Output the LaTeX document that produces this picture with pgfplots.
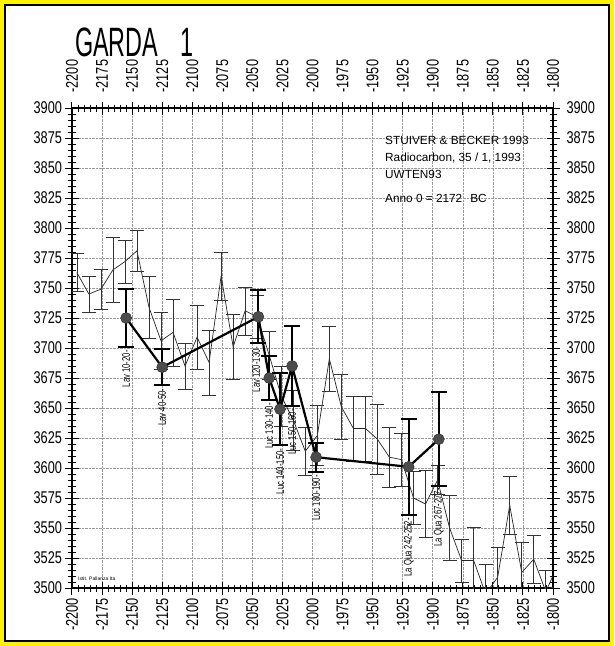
\documentclass[border=0pt]{standalone}
\usepackage{pgfplots}
\pgfplotsset{compat=1.18}
\usepackage{fontspec}
\setmainfont{Liberation Sans}
\newfontfamily\tickfont{Liberation Sans}[FakeStretch=0.75]
\newfontfamily\titlefont{Liberation Sans}[FakeStretch=0.57]
\newfontfamily\lblfont{Liberation Sans}[FakeStretch=0.7]
\newfontfamily\annofont{Liberation Sans}
\newcommand\tickfs{\tickfont\fontsize{17}{17}\selectfont}
\newcommand\annofs{\annofont\fontsize{11.8}{11.8}\selectfont}

\pgfplotstableread{
x y e
-2196 3763 16
-2186 3745 15
-2176 3749 17
-2166 3765 27
-2156 3772 18
-2146 3781 17
-2136 3734 26
-2126 3706 24
-2116 3713 28
-2106 3685 19
-2096 3709 27
-2086 3688 27
-2076 3760 20
-2066 3701 27
-2056 3731 20
-2046 3726 18
-2036 3694 20
-2026 3660 25
-2016 3640 25
-2006 3614 20
-1996 3627 25
-1986 3691 27
-1976 3651 27
-1966 3633 27
-1956 3633 27
-1946 3624 29
-1936 3609 25
-1926 3607 22
-1916 3575 22
-1906 3570 28
-1896 3590 12
-1886 3550 27
-1876 3523 18
-1866 3523 28
-1856 3495 25
-1846 3509 25
-1836 3569 24
-1826 3513 25
-1816 3524 20
-1806 3497 18
-1796 3519 18
}\curvedata

\pgfplotstableread{
x y e
-2155 3725 24
-2125 3684 15
-2045 3726 22
-2036 3675 18
-2027 3649 30
-2017 3685 33
-1997 3609 12
-1920 3601 40
-1895 3624 39
}\sampledata

\begin{document}
\begin{tikzpicture}
\useasboundingbox (0,0) rectangle (614pt,-646pt);
\fill[white] (0,0) rectangle (614pt,-646pt);
\draw[yellow, line width=4pt] (2pt,-2pt) rectangle (612pt,-644pt);
\draw[black, line width=1.2pt] (5pt,-5pt) rectangle (609pt,-641pt);

\node[anchor=base west, inner sep=0pt] at (75pt,-56pt) {\titlefont\fontsize{41}{41}\selectfont GARDA\hspace{22pt}1};

% frame, grid, ticks, bottom/left labels
\begin{axis}[
  at={(72pt,-588pt)}, anchor=south west,
  width=481pt, height=480pt, scale only axis,
  xmin=-2200, xmax=-1800, ymin=3500, ymax=3900,
  xtick distance=25, ytick distance=25, minor tick num=4,
  tick align=center, major tick length=13pt, minor tick length=7pt,
  every tick/.style={black, line width=1pt},
  axis line style={line width=1.3pt},
  grid=major, major grid style={densely dotted, black!40, line width=0.6pt},
  /pgf/number format/assume math mode=true,
  /pgf/number format/set thousands separator={},
  scaled ticks=false,
  xticklabel style={rotate=90, anchor=east, font=\tickfs},
  yticklabel style={font=\tickfs},
  clip=true,
]
\addplot[draw=none, forget plot] coordinates {(-2200,3500)};
\end{axis}

% data
\begin{axis}[
  at={(72pt,-588pt)}, anchor=south west,
  width=481pt, height=480pt, scale only axis,
  xmin=-2200, xmax=-1800, ymin=3500, ymax=3900,
  hide axis, clip=true,
]
\addplot[black!85, line width=0.7pt,
  error bars/.cd, y dir=both, y explicit,
  error bar style={line width=0.6pt, black!80},
  error mark options={rotate=90, mark size=7pt, line width=0.6pt, black!80}]
  table[x=x, y=y, y error=e] {\curvedata};
\addplot[black, line width=2.2pt, mark=*,
  mark options={mark size=5.5pt, fill=black!70, draw=black!80, line width=0.5pt},
  error bars/.cd, y dir=both, y explicit,
  error bar style={line width=2pt, black},
  error mark options={rotate=90, mark size=8pt, line width=2pt, black}]
  table[x=x, y=y, y error=e] {\sampledata};

\begin{scope}[every node/.style={rotate=90, anchor=east, inner sep=1pt, font=\lblfont\fontsize{11}{11}\selectfont}]
\node at (axis cs:-2155,3699) {Lav 10-20-};
\node at (axis cs:-2125,3667) {Lav 40-50-};
\node at (axis cs:-2047,3702) {Lav 120-130-};
\node at (axis cs:-2036,3655) {Luc 130-140-};
\node at (axis cs:-2027,3617) {Luc 140-150-};
\node at (axis cs:-2017,3650) {Luc 150-160-};
\node at (axis cs:-1997,3595) {Luc 180-190-};
\node at (axis cs:-1920,3559) {La Qua 242-252-};
\node at (axis cs:-1895,3584) {La Qua 267-277-};
\end{scope}
\end{axis}

% top/right labels
\begin{axis}[
  at={(72pt,-588pt)}, anchor=south west,
  width=481pt, height=480pt, scale only axis,
  xmin=-2200, xmax=-1800, ymin=3500, ymax=3900,
  xtick distance=25, ytick distance=25,
  axis line style={draw=none}, major tick length=13pt,
  every tick/.style={draw=none},
  xticklabel pos=right, yticklabel pos=right,
  xticklabel shift=12pt, yticklabel shift=10pt,
  /pgf/number format/assume math mode=true,
  /pgf/number format/set thousands separator={},
  scaled ticks=false,
  xticklabel style={rotate=90, anchor=west, font=\tickfs},
  yticklabel style={font=\tickfs},
]
\end{axis}

\node[anchor=base west, inner sep=0pt] at (385pt,-144pt) {\annofs STUIVER \& BECKER 1993};
\node[anchor=base west, inner sep=0pt] at (385pt,-161pt) {\annofs Radiocarbon, 35 / 1, 1993};
\node[anchor=base west, inner sep=0pt] at (385pt,-178pt) {\annofs UWTEN93};
\node[anchor=base west, inner sep=0pt] at (385pt,-202pt) {\annofs Anno 0 = 2172\hspace{8pt}BC};
\node[anchor=base west, inner sep=0pt] at (78pt,-580pt) {\annofont\fontsize{5}{5}\selectfont Istit. Pallanza Ita};
\end{tikzpicture}
\end{document}
